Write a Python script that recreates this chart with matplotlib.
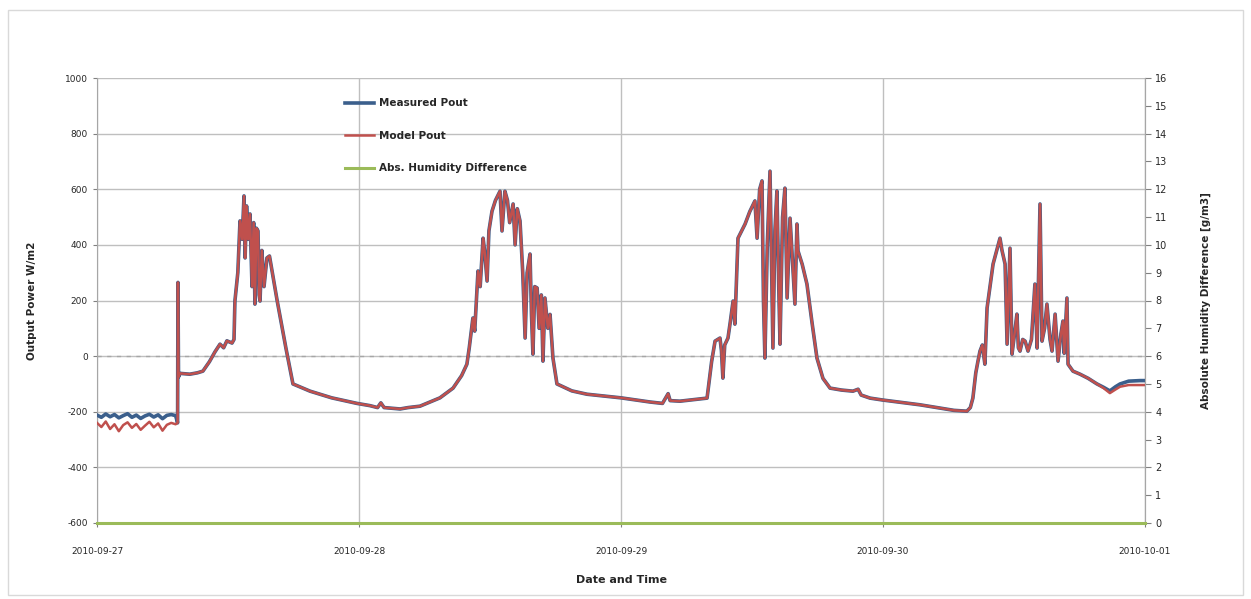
import numpy as np
import matplotlib
matplotlib.use("Agg")
import matplotlib.pyplot as plt
import matplotlib.dates as mdates
from matplotlib.patches import Rectangle

plt.rcParams["axes.unicode_minus"] = False

# ---------------- data (hours since 2010-09-27 00:00) ----------------
model_hours = [0, 0.4, 0.8, 1.2, 1.6, 2.0, 2.4, 2.8, 3.2, 3.6, 4.0, 4.4, 4.8, 5.2, 5.6, 6.0, 6.4, 6.8, 7.2,
               7.38, 7.42, 7.47, 7.6, 8.5, 9.2, 9.7, 10.3, 10.8, 11.27, 11.6, 11.9, 12.37, 12.55, 12.64, 12.9,
               13.1, 13.3, 13.47, 13.56, 13.7, 13.85, 14.02, 14.2, 14.35, 14.47, 14.6, 14.75, 14.85, 14.93,
               15.1, 15.3, 15.57, 15.8, 16.5, 17.3, 17.95, 19.51, 21.5, 23.82, 25.0, 25.7, 26.0, 26.3, 27.76,
               28.5, 29.59, 30.5, 31.42, 32.61, 33.4, 33.89, 34.1, 34.44, 34.6, 34.9, 35.1, 35.36, 35.5, 35.73,
               35.9, 36.18, 36.5, 36.92, 37.1, 37.37, 37.6, 37.8, 38.11, 38.3, 38.5, 38.75, 39.0, 39.21, 39.4,
               39.66, 39.8, 39.94, 40.1, 40.31, 40.5, 40.7, 40.85, 41.04, 41.3, 41.5, 41.77, 42.14, 43.5, 44.89,
               48.0, 50.66, 51.8, 52.1, 52.31, 52.5, 53.4, 55.88, 56.3, 56.61, 57.07, 57.2, 57.34, 57.5, 57.8,
               58.0, 58.26, 58.44, 58.72, 59.36, 59.8, 60.27, 60.46, 60.7, 60.92, 61.05, 61.19, 61.4, 61.65,
               61.8, 61.92, 62.1, 62.29, 62.45, 62.56, 62.8, 63.02, 63.21, 63.48, 63.7, 63.94, 64.12, 64.21,
               64.6, 65.04, 65.5, 65.95, 66.5, 67.15, 68.2, 69.25, 69.71, 70.0, 70.81, 72.0, 75.39, 77.22,
               78.5, 79.69, 80.0, 80.24, 80.5, 80.7, 80.89, 81.1, 81.34, 81.53, 82.08, 82.72, 82.9, 83.18,
               83.36, 83.63, 83.82, 84.05, 84.27, 84.4, 84.55, 84.8, 85.01, 85.28, 85.6, 85.92, 86.11, 86.38,
               86.56, 86.8, 87.02, 87.3, 87.48, 87.76, 88.03, 88.3, 88.49, 88.6, 88.85, 88.95, 89.4, 90.05,
               90.8, 91.6, 92.2, 92.79, 93.3, 93.71, 94.5, 95.54, 96.0]

model_power = [-240, -255, -235, -262, -245, -270, -248, -238, -258, -244, -265, -250, -236, -256, -242, -268, -247, -240, -245,
               -240, 265, -75, -62, -65, -60, -54, -20, 15, 43, 30, 55, 47, 60, 198, 300,
               486, 420, 576, 353, 540, 420, 511, 250, 480, 187, 460, 450, 220, 198,
               380, 250, 353, 360, 200, 30, -100, -126, -150, -170, -178, -185, -168, -185, -190,
               -185, -180, -165, -150, -115, -70, -29, 30, 137, 90, 306, 250, 424, 380, 270,
               450, 521, 560, 593, 450, 593, 560, 480, 547, 400, 530, 486, 300, 65, 300,
               367, 150, 7, 250, 245, 100, 220, -18, 209, 100, 150, -7, -100, -125, -137,
               -150, -165, -170, -150, -135, -160, -162, -151, -20, 54, 65, 20, -79, 40, 65,
               120, 198, 115, 424, 475, 520, 558, 424, 600, 630, 200, -7, 400, 665,
               300, 29, 450, 594, 250, 43, 500, 604, 209, 496, 350, 187, 475, 378,
               330, 259, 120, -7, -80, -115, -122, -126, -119, -140, -151, -158, -175, -187,
               -195, -198, -185, -151, -60, -18, 18, 40, -29, 173, 331, 424, 380, 331,
               43, 388, 7, 80, 151, 30, 18, 60, 54, 18, 60, 259, 29, 547,
               54, 100, 187, 60, 18, 151, -18, 80, 126, 10, 209, -29, -54, -65,
               -80, -100, -115, -133, -120, -110, -104, -104, -104]

# measured values differ from model only in the first hours and at the tail
measured_start_power = [-212, -220, -208, -218, -210, -222, -214, -207, -220, -212, -224, -215, -209, -219, -211, -225, -213, -210, -214]
measured_tail_power = [-112, -125, -110, -100, -90, -88, -88]

humidity_hours = [0, 96]
humidity_diff = [0, 0]

left_ticks = [-600, -400, -200, 0, 200, 400, 600, 800, 1000]
right_ticks = list(range(0, 17))

# ---------------- build series ----------------
start = np.datetime64("2010-09-27T00:00")
def to_dates(hours):
    return start + (np.asarray(hours, dtype=float) * 60).round().astype("timedelta64[m]")

t_model = to_dates(model_hours)
measured_power = list(model_power)
measured_power[:len(measured_start_power)] = measured_start_power
measured_power[-len(measured_tail_power):] = measured_tail_power

red = "#C0504D"
green = "#9BBB59"
grid_col = "#BFBFBF"
txt = "#262626"

fig = plt.figure(figsize=(12.51, 5.99), dpi=100)
fig.patches.append(Rectangle((8 / 1251, 4 / 599), 1235 / 1251, 585 / 599, transform=fig.transFigure,
                             fill=False, edgecolor="#D9D9D9", linewidth=1.0))
ax = fig.add_axes([97 / 1251, 1 - 523 / 599, (1145 - 97) / 1251, (523 - 78) / 599])

xmin, xmax = to_dates([0, 96])
ax.set_xlim(xmin, xmax)
ax.set_ylim(-600, 1000)
ax.set_yticks(left_ticks)
ax.yaxis.grid(True, color=grid_col, linewidth=1.0)
ax.xaxis.grid(True, color=grid_col, linewidth=1.0)
ax.set_axisbelow(True)
ax.axhline(0, color="#A6A6A6", linewidth=1.0, linestyle=(0, (3, 4)), zorder=1.5)

ax.plot(t_model, measured_power, color="#3B5F8C", linewidth=2.6, label="Measured Pout", zorder=3)
ax.plot(t_model, model_power, color=red, linewidth=1.8, label="Model Pout", zorder=4)

ax.xaxis.set_major_locator(mdates.DayLocator())
ax.xaxis.set_major_formatter(mdates.DateFormatter("%Y-%m-%d"))

ax.spines["top"].set_visible(False)
for s in ["left", "bottom", "right"]:
    ax.spines[s].set_color("#A6A6A6")
ax.tick_params(axis="both", colors="#808080", labelcolor=txt, length=3, labelsize=6.5)
ax.tick_params(axis="x", pad=14)

ax2 = ax.twinx()
ax2.set_ylim(0, 16)
ax2.set_yticks(right_ticks)
ax2.plot(to_dates(humidity_hours), humidity_diff, color=green, linewidth=2.2, label="Abs. Humidity Difference",
         clip_on=False, zorder=5)
ax2.tick_params(axis="y", colors="#808080", labelcolor=txt, length=4, labelsize=7)
for s in ["top", "left", "bottom"]:
    ax2.spines[s].set_visible(False)
ax2.spines["right"].set_color("#A6A6A6")

ax.set_ylabel("Output Power W/m2", fontsize=7.5, fontweight="bold", color=txt, labelpad=20)
ax2.set_ylabel("Absolute Humidity Difference [g/m3]", fontsize=7.5, fontweight="bold", color=txt, labelpad=24)
ax.set_xlabel("Date and Time", fontsize=8, fontweight="bold", color=txt, labelpad=14)

h1, l1 = ax.get_legend_handles_labels()
h2, l2 = ax2.get_legend_handles_labels()
leg = ax.legend(h1 + h2, l1 + l2, loc="upper left", bbox_to_anchor=(0.228, 0.975), frameon=False,
                fontsize=7.5, handlelength=2.8, labelspacing=2.15, handletextpad=0.4)
for t in leg.get_texts():
    t.set_color(txt)
    t.set_fontweight("bold")
leg.set_zorder(10)

fig.savefig("out.png", dpi=100)
